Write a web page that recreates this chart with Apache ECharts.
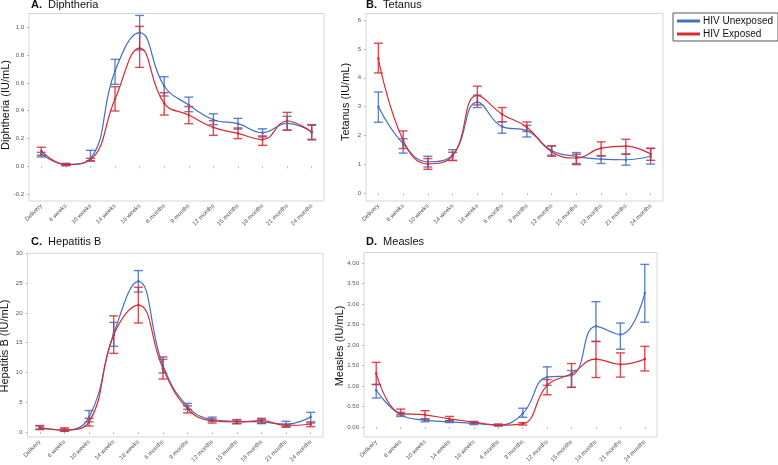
<!DOCTYPE html>
<html>
<head>
<meta charset="utf-8">
<script src="https://cdn.jsdelivr.net/npm/echarts@6/dist/echarts.min.js"></script>
<style>html,body{margin:0;padding:0;background:#fff}#c{width:778px;height:465px}</style>
</head>
<body>
<div id="c"></div>
<script>
const categories = ['Delivery','6 weeks','10 weeks','14 weeks','18 weeks','6 months','9 months','12 months','15 months','18 months','21 months','24 months'];

// A. Diphtheria
const diphUnexpMean = [0.088, 0.014, 0.057, 0.686, 0.962, 0.578, 0.441, 0.335, 0.307, 0.242, 0.309, 0.249];
const diphUnexpLo   = [0.067, 0.005, 0.040, 0.590, 0.837, 0.506, 0.393, 0.300, 0.268, 0.211, 0.259, 0.194];
const diphUnexpHi   = [0.100, 0.020, 0.115, 0.770, 1.086, 0.645, 0.498, 0.378, 0.345, 0.270, 0.360, 0.295];
const diphExpMean   = [0.110, 0.012, 0.048, 0.484, 0.850, 0.453, 0.369, 0.280, 0.237, 0.192, 0.326, 0.245];
const diphExpLo     = [0.079, 0.005, 0.037, 0.398, 0.712, 0.369, 0.307, 0.223, 0.199, 0.151, 0.261, 0.190];
const diphExpHi     = [0.137, 0.020, 0.057, 0.573, 1.007, 0.530, 0.430, 0.328, 0.276, 0.218, 0.388, 0.300];
const diphTicks = [-0.2, 0, 0.2, 0.4, 0.6, 0.8, 1.0];

// B. Tetanus
const tetUnexpMean = [3.00, 1.71, 1.09, 1.33, 3.16, 2.31, 2.17, 1.48, 1.27, 1.18, 1.16, 1.28];
const tetUnexpLo   = [2.46, 1.39, 0.91, 1.14, 2.97, 2.08, 1.95, 1.32, 1.03, 1.03, 0.97, 1.01];
const tetUnexpHi   = [3.51, 1.89, 1.28, 1.51, 3.40, 2.48, 2.35, 1.64, 1.41, 1.29, 1.35, 1.55];
const tetExpMean   = [4.67, 1.84, 1.02, 1.30, 3.39, 2.74, 2.29, 1.44, 1.22, 1.56, 1.63, 1.36];
const tetExpLo     = [4.17, 1.55, 0.83, 1.13, 3.06, 2.48, 2.14, 1.28, 0.99, 1.30, 1.36, 1.14];
const tetExpHi     = [5.20, 2.16, 1.20, 1.42, 3.71, 2.97, 2.47, 1.64, 1.35, 1.78, 1.87, 1.56];
const tetTicks = [0, 1, 2, 3, 4, 5, 6];

// C. Hepatitis B
const hepUnexpMean = [0.8, 0.3, 2.5, 16.5, 25.3, 11.2, 4.3, 2.1, 1.8, 1.7, 1.3, 2.5];
const hepUnexpLo   = [0.5, 0.15, 1.7, 14.4, 23.5, 9.9, 3.8, 1.8, 1.4, 1.4, 0.9, 1.5];
const hepUnexpHi   = [1.1, 0.5, 3.6, 18.4, 27.1, 12.2, 4.8, 2.5, 2.1, 2.1, 1.8, 3.3];
const hepExpMean   = [0.7, 0.35, 1.7, 16.3, 21.3, 10.7, 3.9, 1.9, 1.7, 1.9, 1.1, 1.3];
const hepExpLo     = [0.4, 0.1, 1.0, 13.2, 18.3, 8.9, 3.2, 1.5, 1.4, 1.5, 0.8, 0.9];
const hepExpHi     = [1.0, 0.7, 2.3, 19.5, 24.3, 12.6, 4.4, 2.2, 2.0, 2.3, 1.3, 1.7];
const hepTicks = [0, 5, 10, 15, 20, 25, 30];

// D. Measles
const measUnexpMean = [0.90, 0.30, 0.17, 0.13, 0.09, 0.05, 0.33, 1.22, 1.26, 2.46, 2.26, 3.27];
const measUnexpLo   = [0.71, 0.26, 0.13, 0.11, 0.06, 0.03, 0.24, 1.02, 0.97, 2.09, 1.90, 2.56];
const measUnexpHi   = [1.04, 0.36, 0.20, 0.15, 0.11, 0.07, 0.46, 1.47, 1.38, 3.06, 2.54, 3.97];
const measExpMean   = [1.31, 0.34, 0.30, 0.20, 0.12, 0.05, 0.08, 1.02, 1.30, 1.66, 1.53, 1.66];
const measExpLo     = [1.04, 0.30, 0.20, 0.16, 0.09, 0.03, 0.05, 0.79, 0.97, 1.21, 1.22, 1.37];
const measExpHi     = [1.58, 0.44, 0.40, 0.26, 0.14, 0.07, 0.11, 1.16, 1.55, 2.09, 1.81, 1.97];
const measTicks = [0, 0.5, 1.0, 1.5, 2.0, 2.5, 3.0, 3.5, 4.0];

const BLUE = '#4470c4';
const RED = '#d92a33';
const FONT = 'Liberation Sans, Arial, sans-serif';

const panels = [
  {letter:'A.', name:'Diphtheria', yname:'Diphtheria (IU/mL)', grid:{left:29, top:13.5, width:295, height:187.5}, min:-0.25, max:1.1, ticks:diphTicks, dec:1,
   u:[diphUnexpMean, diphUnexpLo, diphUnexpHi], e:[diphExpMean, diphExpLo, diphExpHi], title:[31,-1], yn:[6,105]},
  {letter:'B.', name:'Tetanus', yname:'Tetanus (IU/mL)', grid:{left:366, top:13.5, width:297, height:187.5}, min:-0.27, max:6.23, ticks:tetTicks, dec:0,
   u:[tetUnexpMean, tetUnexpLo, tetUnexpHi], e:[tetExpMean, tetExpLo, tetExpHi], title:[366,-1], yn:[346,102]},
  {letter:'C.', name:'Hepatitis B', yname:'Hepatitis B (IU/mL)', grid:{left:27.5, top:253.3, width:295.5, height:185}, min:-0.83, max:30, ticks:hepTicks, dec:0,
   u:[hepUnexpMean, hepUnexpLo, hepUnexpHi], e:[hepExpMean, hepExpLo, hepExpHi], title:[31,236], yn:[5,346]},
  {letter:'D.', name:'Measles', yname:'Measles (IU/mL)', grid:{left:364, top:252.5, width:293, height:187.5}, min:-0.24, max:4.26, ticks:measTicks, dec:2,
   u:[measUnexpMean, measUnexpLo, measUnexpHi], e:[measExpMean, measExpLo, measExpHi], title:[366,236], yn:[340,346]}
];

function errRender(color) {
  return function (params, api) {
    const x = api.value(0);
    const lo = api.coord([x, api.value(1)]);
    const hi = api.coord([x, api.value(2)]);
    const w = 4.5;
    const st = {stroke: color, lineWidth: 1.4, opacity: 0.85};
    return {type:'group', children:[
      {type:'line', shape:{x1:lo[0], y1:lo[1], x2:hi[0], y2:hi[1]}, style:st},
      {type:'line', shape:{x1:hi[0]-w, y1:hi[1], x2:hi[0]+w, y2:hi[1]}, style:st},
      {type:'line', shape:{x1:lo[0]-w, y1:lo[1], x2:lo[0]+w, y2:lo[1]}, style:st}
    ]};
  };
}

const grid = [], xAxis = [], yAxis = [], series = [], title = [], graphic = [];
panels.forEach((p, i) => {
  grid.push(Object.assign({show:true, borderColor:'#d6d6d6', borderWidth:1, backgroundColor:'#fff'}, p.grid));
  xAxis.push({type:'category', gridIndex:i, data:categories, boundaryGap:true,
    axisLine:{show:false}, axisTick:{show:true, alignWithLabel:true, length:2, lineStyle:{color:'#bbb'}},
    axisLabel:{rotate:45, fontSize:6, color:'#555', margin:4, interval:0, fontFamily:FONT}});
  yAxis.push({type:'value', gridIndex:i, min:p.min, max:p.max, splitLine:{show:false},
    axisLine:{show:false}, axisTick:{show:true, length:2, lineStyle:{color:'#bbb'}, customValues:p.ticks},
    axisLabel:{fontSize:6, color:'#555', margin:5, fontFamily:FONT, customValues:p.ticks,
      formatter: v => Number(v).toFixed(p.dec)}});
  const mk = (vals) => vals[1].map((lo, k) => [k, lo, vals[2][k]]);
  series.push({type:'custom', name:'eu'+i, xAxisIndex:i, yAxisIndex:i, renderItem:errRender(BLUE),
    encode:{x:0, y:[1,2]}, data:mk(p.u), z:3, silent:true});
  series.push({type:'custom', name:'ee'+i, xAxisIndex:i, yAxisIndex:i, renderItem:errRender(RED),
    encode:{x:0, y:[1,2]}, data:mk(p.e), z:3, silent:true});
  series.push({type:'line', name:'HIV Unexposed', xAxisIndex:i, yAxisIndex:i, data:p.u[0], smooth:0.45,
    symbol:'circle', symbolSize:2.5, lineStyle:{color:BLUE, width:1.2}, itemStyle:{color:BLUE}, z:4, animation:false});
  series.push({type:'line', name:'HIV Exposed', xAxisIndex:i, yAxisIndex:i, data:p.e[0], smooth:0.45,
    symbol:'circle', symbolSize:2.5, lineStyle:{color:RED, width:1.2}, itemStyle:{color:RED}, z:4, animation:false});
  title.push({text:'{b|' + p.letter + '}  ' + p.name, left:p.title[0], top:p.title[1], padding:0,
    textStyle:{fontSize:11, fontWeight:'normal', color:'#111', fontFamily:FONT,
      rich:{b:{fontSize:11, fontWeight:'bold', color:'#111', fontFamily:FONT}}}});
  graphic.push({type:'text', x:p.yn[0], y:p.yn[1], rotation:Math.PI/2,
    style:{text:p.yname, fontSize:11, fontFamily:FONT, fill:'#111', align:'center', verticalAlign:'middle'}});
});

const chart = echarts.init(document.getElementById('c'), null, {renderer:'canvas'});
chart.setOption({
  animation:false,
  backgroundColor:'#fff',
  title, grid, xAxis, yAxis, series, graphic,
  legend:{data:['HIV Unexposed','HIV Exposed'], orient:'vertical', left:673, top:13,
    borderColor:'#555', borderWidth:1, borderRadius:0, padding:[3,5,2,4], itemGap:3,
    itemWidth:23, itemHeight:3, icon:'rect',
    textStyle:{fontSize:10, color:'#111', fontFamily:FONT, padding:[0,0,0,-2]}}
});
</script>
</body>
</html>
